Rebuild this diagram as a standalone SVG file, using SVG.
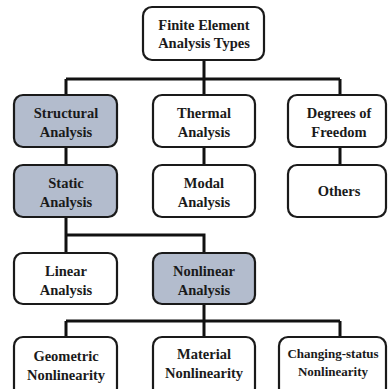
<svg xmlns="http://www.w3.org/2000/svg" width="388" height="389" viewBox="0 0 388 389">
<style>
.box{fill:#fff;stroke:#1a1a1a;stroke-width:2.2}
.hl{fill:#b3bccd}
text{font-family:"Liberation Serif","Times New Roman",serif;font-weight:bold;font-size:14.5px;fill:#1a1a1a;text-anchor:middle}
.c{fill:none;stroke:#111;stroke-width:3}
</style>
<rect width="388" height="389" fill="#fff"/>
<g id="connectors">
<path class="c" d="M204 60V79M66 79H340M66 79V95M204 79V95M340 79V95"/>
<path class="c" d="M66 147V165M204 147V165M340 147V165"/>
<path class="c" d="M66 217V235H204V253M66 235V253"/>
<path class="c" d="M204 304V321M66 321H340M66 321V337M204 321V337M340 321V337"/>
</g>
<g id="n-fea"><rect class="box" x="143" y="7" width="121" height="53" rx="9"/><text x="204" y="30">Finite Element</text><text x="204" y="48">Analysis Types</text></g>
<g id="n-structural"><rect class="box hl" x="14" y="95" width="103" height="52" rx="9"/><text x="66" y="118">Structural</text><text x="66" y="137">Analysis</text></g>
<g id="n-thermal"><rect class="box" x="153" y="95" width="102" height="52" rx="9"/><text x="204" y="118">Thermal</text><text x="204" y="137">Analysis</text></g>
<g id="n-dof"><rect class="box" x="288" y="95" width="98" height="52" rx="9"/><text x="339" y="118">Degrees of</text><text x="339" y="137">Freedom</text></g>
<g id="n-static"><rect class="box hl" x="14" y="165" width="103" height="52" rx="9"/><text x="66" y="188">Static</text><text x="66" y="207">Analysis</text></g>
<g id="n-modal"><rect class="box" x="153" y="165" width="102" height="52" rx="9"/><text x="204" y="188">Modal</text><text x="204" y="207">Analysis</text></g>
<g id="n-others"><rect class="box" x="288" y="165" width="98" height="52" rx="9"/><text x="339" y="196">Others</text></g>
<g id="n-linear"><rect class="box" x="14" y="253" width="103" height="51" rx="9"/><text x="66" y="276">Linear</text><text x="66" y="295">Analysis</text></g>
<g id="n-nonlinear"><rect class="box hl" x="153" y="253" width="102" height="51" rx="9"/><text x="204" y="276">Nonlinear</text><text x="204" y="295">Analysis</text></g>
<g id="n-geometric"><rect class="box" x="14" y="337" width="103" height="60" rx="9"/><text x="66" y="361">Geometric</text><text x="66" y="380">Nonlinearity</text></g>
<g id="n-material"><rect class="box" x="153" y="337" width="102" height="60" rx="9"/><text x="204" y="359">Material</text><text x="204" y="378">Nonlinearity</text></g>
<g id="n-changing"><rect class="box" x="279" y="337" width="107" height="60" rx="9"/><text x="333" y="358" style="font-size:13px">Changing-status</text><text x="333" y="376" style="font-size:13px">Nonlinearity</text></g>
</svg>
